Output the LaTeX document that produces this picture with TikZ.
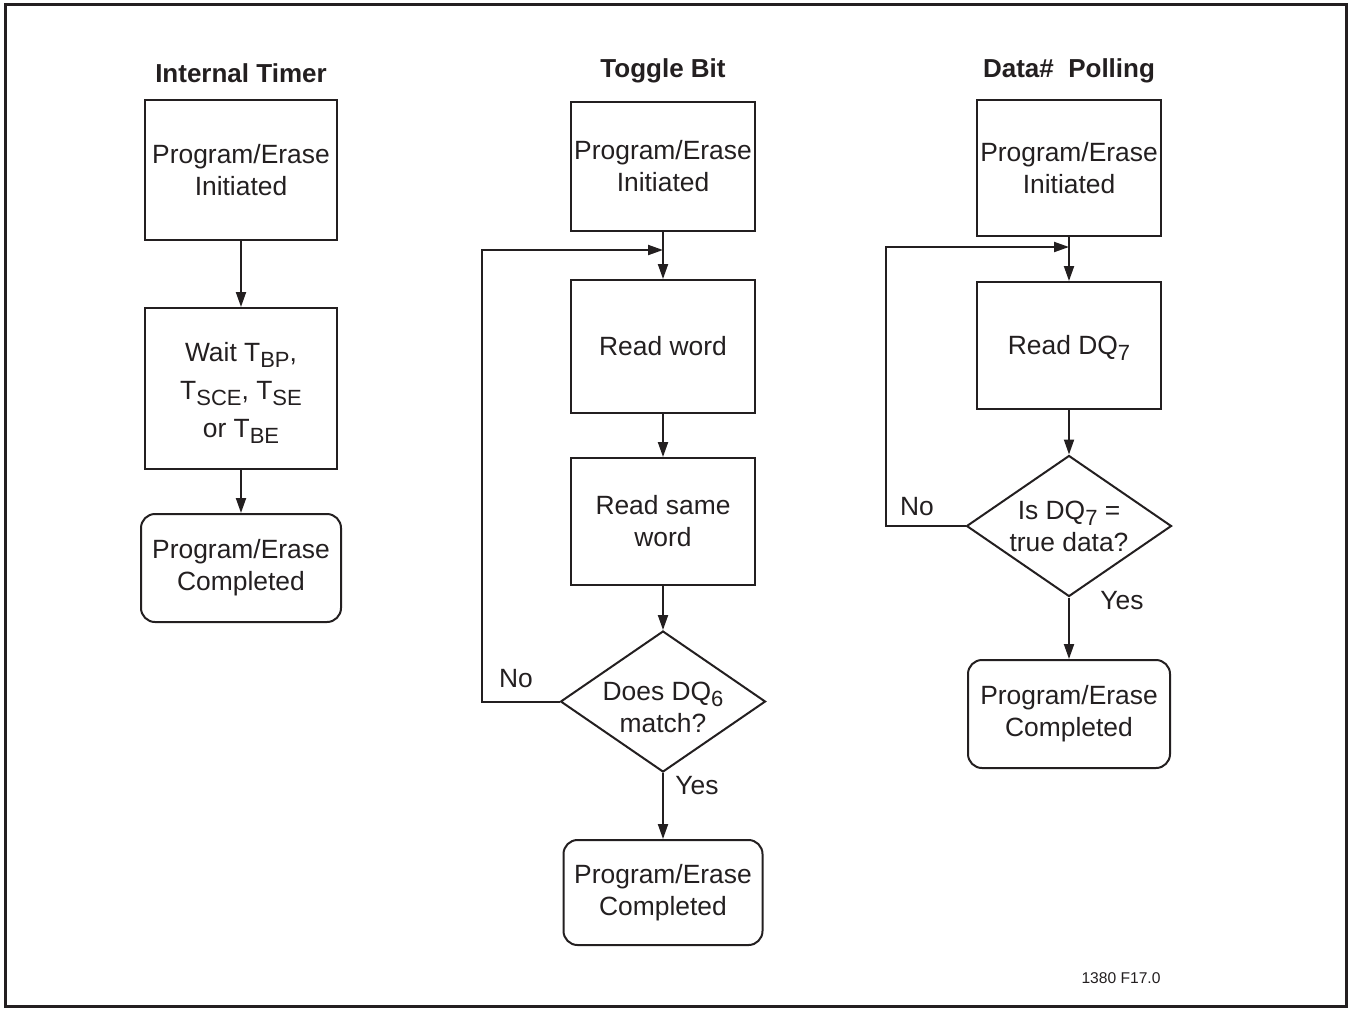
\documentclass[tikz,border=0pt]{standalone}
\usepackage{fontspec}
\setmainfont{Liberation Sans}
\usetikzlibrary{shapes.geometric,arrows.meta}
\definecolor{ink}{RGB}{35,31,32}
\newcommand\sbx[1]{\raisebox{-3pt}{\fontsize{11}{12}\selectfont #1}}
\begin{document}
\begin{tikzpicture}[x=0.5pt,y=-0.5pt,
  txt/.style={font=\fontsize{13.2}{16}\selectfont, text=ink, align=center},
  ttl/.style={font=\fontsize{13}{15}\selectfont\bfseries, text=ink},
  box/.style={draw=ink, line width=1pt, inner sep=0pt, txt},
  rbox/.style={box, rounded corners=7pt},
  dia/.style={draw=ink, line width=1pt, diamond, inner sep=0pt, minimum width=102.5pt, minimum height=70.5pt},
  arr/.style={draw=ink, line width=1pt, -{Triangle[length=7.5pt,width=5pt]}},
  lnk/.style={draw=ink, line width=1pt}]
\useasboundingbox (0,0) rectangle (1348,1008);
\draw[ink, line width=1.5pt] (5,4) rectangle (1346,1006);
% column 1
\node[ttl] (t1) at (241,73) {Internal Timer};
\node[box, minimum width=96pt, minimum height=70pt] (i1) at (241,170) {Program/Erase\\Initiated};
\node[box, minimum width=96pt, minimum height=80.5pt] (w1) at (241,388.5) {};
\node[txt] (w1t) at (241,393) {Wait T\sbx{BP},\\[3pt]T\sbx{SCE}, T\sbx{SE}\\[3pt]or T\sbx{BE}};
\node[rbox, minimum width=100pt, minimum height=54pt] (c1) at (241,568) {Program/Erase\\Completed};
\draw[arr] (i1) -- (w1);
\draw[arr] (w1) -- (c1);
% column 2
\node[ttl] (t2) at (663,71) {Toggle Bit};
\node[box, minimum width=92pt, minimum height=64.5pt] (i2) at (663,166) {Program/Erase\\Initiated};
\node[box, minimum width=92pt, minimum height=66.5pt] (r2) at (663,346.5) {Read word};
\node[box, minimum width=92pt, minimum height=63.5pt] (s2) at (663,521.5) {Read same\\word};
\node[dia] (d2) at (663,701.5) {};
\node[txt] (d2t) at (663,707) {Does DQ\sbx{6}\\match?};
\node[rbox, minimum width=99.5pt, minimum height=52.5pt] (c2) at (663,892.5) {Program/Erase\\Completed};
\coordinate (l2) at (482,250);
\coordinate (j2) at (663,250);
\draw[arr] (i2) -- (r2);
\draw[arr] (r2) -- (s2);
\draw[arr] (s2) -- (d2);
\draw[arr] (d2) -- (c2);
\draw[arr] (d2.west) -| (l2) -- (j2);
\node[txt] (n2) at (516,679) {No};
\node[txt] (y2) at (697,786) {Yes};
% column 3
\node[ttl] (t3) at (1069,71) {Data\#\ \ Polling};
\node[box, minimum width=92pt, minimum height=68pt] (i3) at (1069,168) {Program/Erase\\Initiated};
\node[box, minimum width=92pt, minimum height=63.5pt] (r3) at (1069,345.5) {};
\node[txt] (r3t) at (1069,348) {Read DQ\sbx{7}};
\node[dia] (d3) at (1069,526) {};
\node[txt] (d3t) at (1069,526) {Is DQ\sbx{7} =\\true data?};
\node[rbox, minimum width=101pt, minimum height=54pt] (c3) at (1069,714) {Program/Erase\\Completed};
\coordinate (l3) at (886,247);
\coordinate (j3) at (1069,247);
\draw[arr] (i3) -- (r3);
\draw[arr] (r3) -- (d3);
\draw[arr] (d3) -- (c3);
\draw[arr] (d3.west) -| (l3) -- (j3);
\node[txt] (n3) at (917,507) {No};
\node[txt] (y3) at (1122,601) {Yes};
\node[font=\fontsize{7.8}{9}\selectfont, text=ink] (ft) at (1121,978) {1380 F17.0};
\end{tikzpicture}
\end{document}
